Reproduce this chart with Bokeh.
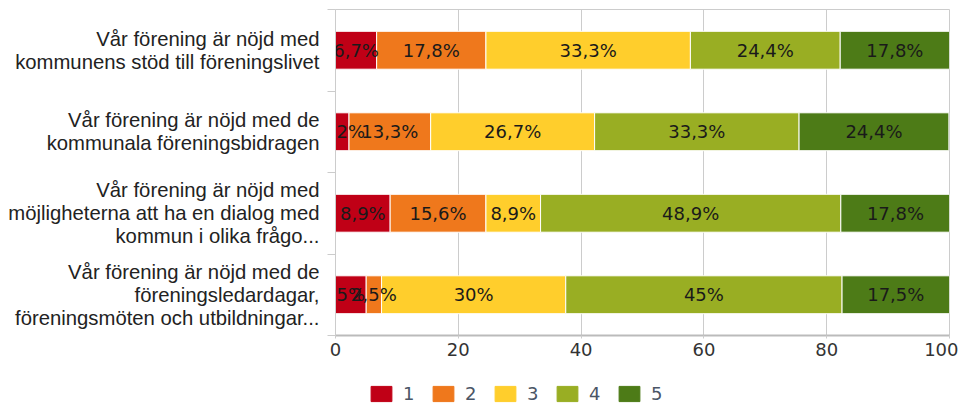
from bokeh.plotting import figure
from bokeh.models import Range1d, FixedTicker, Legend, LegendItem, ColumnDataSource
from bokeh.layouts import column
from bokeh.core.properties import value
from bokeh.embed import file_html
from bokeh.resources import INLINE

questions = [
    "Vår förening är nöjd med\nkommunens stöd till föreningslivet",
    "Vår förening är nöjd med de\nkommunala föreningsbidragen",
    "Vår förening är nöjd med\nmöjligheterna att ha en dialog med\nkommun i olika frågo...",
    "Vår förening är nöjd med de\nföreningsledardagar,\nföreningsmöten och utbildningar...",
]
series_names = ["1", "2", "3", "4", "5"]
s1 = [6.7, 2.2, 8.9, 5.0]
s2 = [17.8, 13.3, 15.6, 2.5]
s3 = [33.3, 26.7, 8.9, 30.0]
s4 = [24.4, 33.3, 48.9, 45.0]
s5 = [17.8, 24.4, 17.8, 17.5]
colors = ["#C00016", "#EF781C", "#FFCE2C", "#99AE23", "#4D7B17"]
x_ticks = [0, 20, 40, 60, 80, 100]

series = [s1, s2, s3, s4, s5]
ypos = [i + 0.5 for i in range(len(questions))]

def fmt(v):
    if abs(v - round(v)) < 1e-9:
        return "%d%%" % round(v)
    return ("%.1f%%" % v).replace(".", ",")

p = figure(width=958, height=372, output_backend="svg", toolbar_location=None,
           title=None,
           x_range=Range1d(0, 100), y_range=Range1d(len(questions), 0),
           min_border_left=335, min_border_right=9, min_border_top=9, min_border_bottom=37)

data = {"y": ypos}
for name, s in zip(series_names, series):
    data[name] = s
src = ColumnDataSource(data)
p.hbar_stack(series_names, y="y", height=0.465, color=colors,
             line_color="white", line_width=1, source=src)

# labels
left = [0.0] * len(questions)
for s in series:
    xs = [l + v / 2 for l, v in zip(left, s)]
    p.text(x=xs, y=ypos, text=[fmt(v) for v in s], text_align="center",
           text_baseline="middle", text_font=value("DejaVu Sans"),
           text_font_size="18px", text_color="#1a1a1a")
    left = [l + v for l, v in zip(left, s)]

# axes
p.xaxis.ticker = FixedTicker(ticks=x_ticks)
p.xaxis.axis_line_color = "#bbbbbb"
p.xaxis.axis_line_width = 2
p.xaxis.major_tick_line_color = "#cccccc"
p.xaxis.major_tick_out = 3
p.xaxis.major_tick_in = 0
p.xaxis.minor_tick_line_color = None
p.xaxis.major_label_text_font = "DejaVu Sans"
p.xaxis.major_label_text_font_size = "18px"
p.xaxis.major_label_text_color = "#333333"
p.xaxis.major_label_standoff = 4

p.yaxis.ticker = FixedTicker(ticks=ypos, minor_ticks=list(range(len(questions) + 1)))
p.yaxis.major_label_overrides = {y: q for y, q in zip(ypos, questions)}
p.yaxis.axis_line_color = "#cccccc"
p.yaxis.major_tick_line_color = None
p.yaxis.major_tick_out = 0
p.yaxis.major_tick_in = 0
p.yaxis.minor_tick_line_color = "#cccccc"
p.yaxis.minor_tick_out = 8
p.yaxis.minor_tick_in = 0
p.yaxis.major_label_standoff = 8
p.yaxis.major_label_text_font = "Liberation Sans"
p.yaxis.major_label_text_font_size = "20.3px"
p.yaxis.major_label_text_line_height = 1.05
p.yaxis.major_label_text_color = "#222222"

p.xgrid.ticker = FixedTicker(ticks=x_ticks)
p.xgrid.grid_line_color = "#cccccc"
p.ygrid.grid_line_color = None
p.outline_line_color = "#cccccc"

# legend in its own strip below the chart (series drawn out of view, only legend shows)
lg = figure(width=958, height=32, output_backend="svg", toolbar_location=None,
            title=None, x_axis_type=None, y_axis_type=None,
            x_range=Range1d(0, 100), y_range=Range1d(1000, 1001),
            min_border_left=335, min_border_right=9, min_border_top=0, min_border_bottom=0)
lg.outline_line_color = None
lg.xgrid.grid_line_color = None
lg.ygrid.grid_line_color = None
lrs = lg.hbar_stack(series_names, y="y", height=0.465, color=colors, source=src)
items = [LegendItem(label=n, renderers=[r]) for n, r in zip(series_names, lrs)]
legend = Legend(items=items, orientation="horizontal", location=(33, 0),
                glyph_width=26, glyph_height=19, label_standoff=9, spacing=8,
                label_width=19, padding=0, margin=0,
                label_text_font="DejaVu Sans", label_text_font_size="18px",
                label_text_color="#4a5566", border_line_color=None,
                background_fill_alpha=0)
lg.add_layout(legend, "center")

layout = column(p, lg, spacing=0)
open("out.html", "w").write(file_html(layout, INLINE))
